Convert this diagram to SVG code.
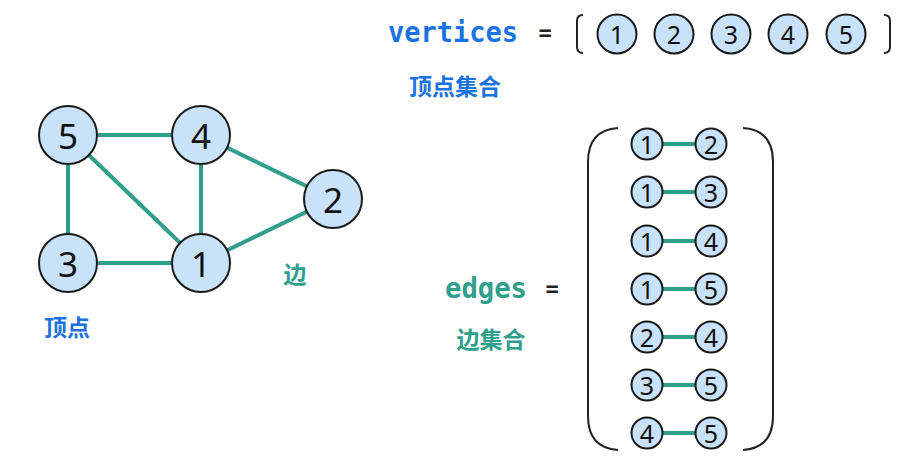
<svg xmlns="http://www.w3.org/2000/svg" width="913" height="470" viewBox="0 0 913 470">
<style>
.bg{fill:#ffffff}
.node circle{fill:#c9e2fb;stroke:#1a1a1a;stroke-width:2}
.big{font-family:"Noto Sans","Open Sans",sans-serif;font-size:35px;fill:#111;text-anchor:middle;dominant-baseline:central}
.sm{font-family:"Noto Sans","Open Sans",sans-serif;font-size:25px;fill:#111;text-anchor:middle;dominant-baseline:central}
.edge{stroke:#2f9e8b;stroke-width:4;fill:none}
.code{font-family:"DejaVu Sans Mono","Liberation Mono",monospace;font-weight:bold;font-size:28px}
.blue{fill:#1a73e0}
.teal{fill:#2f9e8b}
.cjk{font-family:"Noto Sans CJK SC",sans-serif;font-weight:bold;font-size:23px}
.eq{font-family:"DejaVu Sans Mono",monospace;font-size:22px;fill:#222;font-weight:bold}
.br{stroke:#222;stroke-width:2;fill:none}
</style>
<rect class="bg" x="0" y="0" width="913" height="470"/>

<g id="connectors">
<line class="edge" x1="68" y1="135" x2="201" y2="135"/>
<line class="edge" x1="68" y1="135" x2="68" y2="263"/>
<line class="edge" x1="68" y1="135" x2="201" y2="263"/>
<line class="edge" x1="201" y1="135" x2="201" y2="263"/>
<line class="edge" x1="201" y1="135" x2="333" y2="199"/>
<line class="edge" x1="68" y1="263" x2="201" y2="263"/>
<line class="edge" x1="201" y1="263" x2="333" y2="199"/>
</g>

<g id="node5" class="node"><circle cx="68" cy="135" r="29"/><text class="big" x="68" y="135">5</text></g>
<g id="node4" class="node"><circle cx="201" cy="135" r="29"/><text class="big" x="201" y="135">4</text></g>
<g id="node2" class="node"><circle cx="333" cy="199" r="29"/><text class="big" x="333" y="199">2</text></g>
<g id="node3" class="node"><circle cx="68" cy="263" r="29"/><text class="big" x="68" y="263">3</text></g>
<g id="node1" class="node"><circle cx="201" cy="263" r="29"/><text class="big" x="201" y="263">1</text></g>

<text class="cjk blue" x="67" y="336" text-anchor="middle">顶点</text>
<text class="cjk teal" x="295" y="283" text-anchor="middle">边</text>

<!-- vertices -->
<text class="code blue" x="388" y="42" textLength="130" lengthAdjust="spacingAndGlyphs">vertices</text>
<text class="eq" x="545" y="40" text-anchor="middle">=</text>
<path class="br" d="M583 15 Q577 15 577 21 L577 47 Q577 53 583 53"/>
<path class="br" d="M884 15 Q890 15 890 21 L890 47 Q890 53 884 53"/>
<g id="v1" class="node"><circle cx="617" cy="34" r="19.5"/><text class="sm" x="617" y="34">1</text></g>
<g id="v2" class="node"><circle cx="674" cy="34" r="19.5"/><text class="sm" x="674" y="34">2</text></g>
<g id="v3" class="node"><circle cx="731" cy="34" r="19.5"/><text class="sm" x="731" y="34">3</text></g>
<g id="v4" class="node"><circle cx="788" cy="34" r="19.5"/><text class="sm" x="788" y="34">4</text></g>
<g id="v5" class="node"><circle cx="846" cy="34" r="19.5"/><text class="sm" x="846" y="34">5</text></g>
<text class="cjk blue" x="455" y="95" text-anchor="middle">顶点集合</text>

<!-- edges -->
<text class="code teal" x="445" y="298" textLength="82" lengthAdjust="spacingAndGlyphs">edges</text>
<text class="eq" x="552" y="296" text-anchor="middle">=</text>
<text class="cjk teal" x="491" y="348" text-anchor="middle">边集合</text>
<path class="br" d="M618 128 Q588 130 588 162 L588 416 Q588 448 618 450"/>
<path class="br" d="M743 128 Q773 130 773 162 L773 416 Q773 448 743 450"/>

<g id="edge-list-connectors">
<line class="edge" x1="662" y1="144" x2="696" y2="144"/>
<line class="edge" x1="662" y1="192" x2="696" y2="192"/>
<line class="edge" x1="662" y1="241" x2="696" y2="241"/>
<line class="edge" x1="662" y1="289" x2="696" y2="289"/>
<line class="edge" x1="662" y1="337" x2="696" y2="337"/>
<line class="edge" x1="662" y1="385" x2="696" y2="385"/>
<line class="edge" x1="662" y1="433" x2="696" y2="433"/>
</g>

<g id="e12a" class="node"><circle cx="647" cy="144" r="15.5"/><text class="sm" x="647" y="144">1</text></g>
<g id="e12b" class="node"><circle cx="711" cy="144" r="15.5"/><text class="sm" x="711" y="144">2</text></g>
<g id="e13a" class="node"><circle cx="647" cy="192" r="15.5"/><text class="sm" x="647" y="192">1</text></g>
<g id="e13b" class="node"><circle cx="711" cy="192" r="15.5"/><text class="sm" x="711" y="192">3</text></g>
<g id="e14a" class="node"><circle cx="647" cy="241" r="15.5"/><text class="sm" x="647" y="241">1</text></g>
<g id="e14b" class="node"><circle cx="711" cy="241" r="15.5"/><text class="sm" x="711" y="241">4</text></g>
<g id="e15a" class="node"><circle cx="647" cy="289" r="15.5"/><text class="sm" x="647" y="289">1</text></g>
<g id="e15b" class="node"><circle cx="711" cy="289" r="15.5"/><text class="sm" x="711" y="289">5</text></g>
<g id="e24a" class="node"><circle cx="647" cy="337" r="15.5"/><text class="sm" x="647" y="337">2</text></g>
<g id="e24b" class="node"><circle cx="711" cy="337" r="15.5"/><text class="sm" x="711" y="337">4</text></g>
<g id="e35a" class="node"><circle cx="647" cy="385" r="15.5"/><text class="sm" x="647" y="385">3</text></g>
<g id="e35b" class="node"><circle cx="711" cy="385" r="15.5"/><text class="sm" x="711" y="385">5</text></g>
<g id="e45a" class="node"><circle cx="647" cy="433" r="15.5"/><text class="sm" x="647" y="433">4</text></g>
<g id="e45b" class="node"><circle cx="711" cy="433" r="15.5"/><text class="sm" x="711" y="433">5</text></g>
</svg>
